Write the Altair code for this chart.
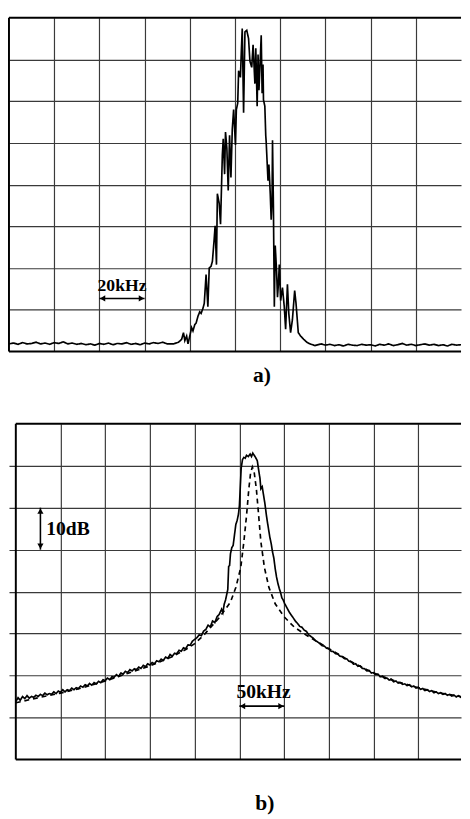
import altair as alt
import pandas as pd

FONT = "Liberation Serif"
GRID = "#3a3a3a"

# ---------------- data (x, y in grid divisions) ----------------
# Panel a) spectrum trace
a_x = [0.0, 0.1, 0.2, 0.3, 0.4, 0.5, 0.6, 0.7, 0.8, 0.9, 1.0, 1.1, 1.2, 1.3, 1.4, 1.5, 1.6,
       1.7, 1.8, 1.9, 2.0, 2.1, 2.2, 2.3, 2.4, 2.5, 2.6, 2.7, 2.8, 2.9, 3.0, 3.1, 3.2, 3.3, 3.4,
       3.50, 3.64, 3.75, 3.82, 3.86, 3.89, 3.93, 3.96, 4.00, 4.04, 4.07, 4.11, 4.14, 4.18, 4.22,
       4.25, 4.29, 4.32, 4.36, 4.40, 4.43, 4.47, 4.50, 4.54, 4.56, 4.59, 4.61, 4.65, 4.68, 4.72,
       4.74, 4.77, 4.79, 4.82, 4.85, 4.88, 4.91, 4.94, 4.97, 5.01, 5.03, 5.06, 5.08, 5.12, 5.14,
       5.16, 5.19, 5.22, 5.26, 5.30, 5.33, 5.37, 5.40, 5.44, 5.46, 5.49, 5.51, 5.53, 5.56, 5.58,
       5.60, 5.62, 5.63, 5.66, 5.68, 5.69, 5.73, 5.75, 5.78, 5.80, 5.82, 5.83, 5.85, 5.87, 5.89,
       5.92, 5.94, 5.96, 5.98, 6.01, 6.05, 6.09, 6.12, 6.16, 6.19, 6.23, 6.27, 6.32, 6.35, 6.40,
       6.45, 6.52, 6.59, 6.66, 6.77, 6.91,
       7.0, 7.1, 7.2, 7.3, 7.4, 7.5, 7.6, 7.7, 7.8, 7.9, 8.0, 8.1, 8.2, 8.3, 8.4, 8.5, 8.6, 8.7,
       8.8, 8.9, 9.0, 9.1, 9.2, 9.3, 9.4, 9.5, 9.6, 9.7, 9.8, 9.9, 10.0]
a_y = [0.18, 0.20, 0.17, 0.21, 0.18, 0.19, 0.22, 0.18, 0.20, 0.17, 0.21, 0.19, 0.23, 0.18,
       0.20, 0.17, 0.19, 0.16, 0.18, 0.15, 0.19, 0.17, 0.20, 0.16, 0.19, 0.18, 0.21, 0.17, 0.19,
       0.16, 0.20, 0.18, 0.21, 0.19, 0.22,
       0.18, 0.18, 0.22, 0.29, 0.45, 0.26, 0.37, 0.18, 0.37, 0.57, 0.49, 0.64, 0.68, 0.84, 0.95,
       0.91, 1.03, 1.15, 1.84, 1.07, 2.00, 2.04, 2.16, 2.70, 3.01, 2.08, 3.78, 3.55, 3.05, 4.71,
       5.10, 4.25, 5.26, 4.87, 3.86, 5.18, 4.17, 5.33, 5.80, 4.95, 5.80, 5.95, 6.73, 6.57, 7.19,
       7.74, 5.72, 7.66, 7.70, 7.50, 6.96, 6.81, 7.35, 6.42, 7.27, 5.88, 7.12, 6.26, 7.04, 7.58,
       6.19, 6.88, 6.03, 5.88, 5.18, 5.02, 4.09, 4.48, 3.78, 3.16, 3.63, 5.06, 3.47, 1.07, 2.54,
       1.92, 1.30, 1.61, 2.08, 1.22, 1.53, 1.07, 0.53, 1.61, 0.91, 0.45, 0.76, 1.46, 1.15, 0.45,
       0.37, 0.29, 0.22, 0.18, 0.14, 0.18,
       0.15, 0.17, 0.14, 0.16, 0.13, 0.17, 0.15, 0.14, 0.17, 0.15, 0.16, 0.13, 0.17, 0.15, 0.18,
       0.14, 0.16, 0.19, 0.15, 0.17, 0.14, 0.16, 0.18, 0.15, 0.17, 0.14, 0.16, 0.13, 0.17, 0.15,
       0.16]

# Panel b) measured (solid) trace
b_solid_x = [0.00, 0.05, 0.10, 0.15, 0.20, 0.25, 0.30, 0.35, 0.40, 0.45, 0.50, 0.55, 0.60,
             0.65, 0.70, 0.75, 0.80, 0.85, 0.90, 0.95, 1.00, 1.05, 1.10, 1.15, 1.20, 1.25,
             1.30, 1.35, 1.40, 1.45, 1.50, 1.55, 1.60, 1.65, 1.70, 1.75, 1.80, 1.85, 1.90,
             1.95, 2.00, 2.05, 2.10, 2.15, 2.20, 2.25, 2.30, 2.35, 2.40, 2.45, 2.50, 2.55,
             2.60, 2.65, 2.70, 2.75, 2.80, 2.85, 2.90, 2.95, 3.00, 3.05, 3.10, 3.15, 3.20,
             3.25, 3.30, 3.35, 3.40, 3.45, 3.50, 3.55, 3.60, 3.65, 3.70, 3.75, 3.80, 3.85,
             3.90, 3.95, 4.00, 4.05, 4.10, 4.15, 4.20, 4.25, 4.30, 4.35, 4.40, 4.45, 4.50,
             4.55, 4.60, 4.63, 4.66, 4.69, 4.72, 4.74, 4.76, 4.78, 4.80, 4.83, 4.86, 4.89,
             4.92, 4.95, 4.98, 5.00, 5.02, 5.04, 5.07, 5.10, 5.13, 5.16, 5.20, 5.24, 5.27,
             5.30, 5.33, 5.36, 5.40, 5.43, 5.46, 5.48, 5.51, 5.54, 5.57, 5.60, 5.62, 5.65,
             5.68, 5.71, 5.74, 5.77, 5.80, 5.83, 5.86, 5.89, 5.92, 5.95, 5.98, 6.01, 6.04,
             6.08, 6.12, 6.16, 6.20, 6.25, 6.30, 6.35, 6.40, 6.45, 6.50, 6.55, 6.60, 6.65,
             6.70, 6.75, 6.80, 6.85, 6.90, 6.95, 7.00, 7.05, 7.10, 7.15, 7.20, 7.25, 7.30,
             7.35, 7.40, 7.45, 7.50, 7.55, 7.60, 7.65, 7.70, 7.75, 7.80, 7.85, 7.90, 7.95,
             8.00, 8.05, 8.10, 8.15, 8.20, 8.25, 8.30, 8.35, 8.40, 8.45, 8.50, 8.55, 8.60,
             8.65, 8.70, 8.75, 8.80, 8.85, 8.90, 8.95, 9.00, 9.05, 9.10, 9.15, 9.20, 9.25,
             9.30, 9.35, 9.40, 9.45, 9.50, 9.55, 9.60, 9.65, 9.70, 9.75, 9.80, 9.85, 9.90,
             9.95, 10.00]
b_solid_y = [1.38, 1.47, 1.41, 1.50, 1.45, 1.52, 1.46, 1.50, 1.48, 1.53, 1.50, 1.55, 1.52,
             1.58, 1.54, 1.57, 1.55, 1.61, 1.57, 1.63, 1.60, 1.66, 1.61, 1.66, 1.64, 1.70,
             1.66, 1.71, 1.69, 1.75, 1.72, 1.78, 1.75, 1.81, 1.77, 1.83, 1.80, 1.86, 1.83,
             1.90, 1.88, 1.94, 1.90, 1.97, 1.96, 2.02, 1.98, 2.06, 2.03, 2.10, 2.07, 2.14,
             2.11, 2.16, 2.14, 2.20, 2.17, 2.24, 2.21, 2.28, 2.25, 2.31, 2.28, 2.35, 2.33,
             2.39, 2.36, 2.44, 2.41, 2.50, 2.46, 2.53, 2.52, 2.60, 2.58, 2.66, 2.64, 2.73,
             2.72, 2.82, 2.86, 2.90, 2.97, 2.95, 3.06, 3.10, 3.20, 3.16, 3.30, 3.26, 3.40,
             3.46, 3.58, 3.50, 3.70, 3.80, 3.95, 4.05, 4.60, 4.62, 4.90, 5.05, 5.10, 5.35,
             5.60, 5.70, 5.85, 6.05, 6.50, 6.95, 7.15, 7.20, 7.18, 7.25, 7.22, 7.28, 7.22,
             7.30, 7.25, 7.20, 7.12, 6.90, 6.70, 6.45, 6.50, 6.30, 6.10, 5.85, 5.70, 5.50,
             5.30, 5.15, 4.95, 4.80, 4.55, 4.35, 4.20, 4.08, 3.98, 3.85, 3.80, 3.72, 3.66,
             3.58, 3.50, 3.44, 3.38, 3.30, 3.24, 3.17, 3.15, 3.08, 3.05, 2.97, 2.93, 2.89,
             2.83, 2.80, 2.76, 2.71, 2.70, 2.65, 2.64, 2.58, 2.57, 2.52, 2.51, 2.46, 2.45,
             2.40, 2.40, 2.34, 2.33, 2.27, 2.28, 2.22, 2.23, 2.17, 2.16, 2.11, 2.12, 2.06,
             2.07, 2.02, 2.03, 1.97, 1.98, 1.93, 1.94, 1.89, 1.91, 1.85, 1.87, 1.82, 1.83,
             1.79, 1.80, 1.76, 1.78, 1.73, 1.75, 1.70, 1.72, 1.67, 1.69, 1.64, 1.66, 1.62,
             1.64, 1.59, 1.61, 1.57, 1.59, 1.55, 1.57, 1.53, 1.55, 1.51, 1.53, 1.49, 1.52,
             1.48, 1.50]

# Panel b) reference (dashed) trace
b_dash_x = [0.00, 0.50, 1.00, 1.50, 2.00, 2.50, 3.00, 3.50, 3.80, 4.00, 4.20, 4.40, 4.55,
            4.70, 4.80, 4.92, 5.03, 5.10, 5.16, 5.21, 5.25, 5.29, 5.33, 5.38, 5.43, 5.48,
            5.56, 5.66, 5.80, 6.00, 6.23, 6.50, 6.75, 7.00, 7.50, 8.00, 8.50, 9.00, 9.50, 10.00]
b_dash_y = [1.35, 1.47, 1.58, 1.71, 1.87, 2.05, 2.23, 2.45, 2.62, 2.76, 2.96, 3.20, 3.38,
            3.60, 3.75, 4.10, 4.57, 5.19, 5.82, 6.44, 6.83, 6.97, 6.85, 6.44, 5.82, 5.19,
            4.57, 4.10, 3.71, 3.40, 3.15, 2.96, 2.80, 2.64, 2.33, 2.06, 1.86, 1.71, 1.58, 1.49]

grid_x = [1, 2, 3, 4, 5, 6, 7, 8, 9]
grid_y = [1, 2, 3, 4, 5, 6, 7]

# annotations
a_note = {"t": ["20kHz"], "x": [2.5], "y": [1.45]}
a_arrow = {"x": [2.0], "x2": [3.0], "y": [1.27]}
a_heads = {"x": [2.07, 2.93], "y": [1.27, 1.27], "s": ["triangle-left", "triangle-right"]}

b_note = {"t": ["10dB", "50kHz"], "x": [0.68, 5.54], "y": [5.35, 1.47],
          "al": ["left", "center"]}
b_arrow = {"x": [0.55, 5.0], "x2": [0.55, 6.0], "y": [5.0, 1.27], "y2": [6.0, 1.27]}
b_heads = {"x": [0.55, 0.55, 5.07, 5.93], "y": [5.92, 5.08, 1.27, 1.27],
           "s": ["triangle-up", "triangle-down", "triangle-left", "triangle-right"]}

W = 462
HA = 341
HB = 343


def make_panel(xdom, height, title, title_x, title_pad, traces, note, arrow, heads):
    xs = alt.Scale(domain=xdom, nice=False, zero=False)
    ys = alt.Scale(domain=[0, 8], nice=False, zero=False)
    xaxis = alt.Axis(values=grid_x, grid=True, gridColor=GRID, gridWidth=1.2,
                     labels=False, ticks=False, domain=False, title=title,
                     titleFont=FONT, titleFontSize=22, titleFontWeight="bold",
                     titleColor="black", titlePadding=title_pad, titleX=title_x)
    yaxis = alt.Axis(values=grid_y, grid=True, gridColor=GRID, gridWidth=1.2,
                     labels=False, ticks=False, domain=False, title=None)
    X = alt.X("x:Q", scale=xs, axis=xaxis)
    Y = alt.Y("y:Q", scale=ys, axis=yaxis)

    layers = []
    # frame (left, bottom, top)
    frame_v = pd.DataFrame({"x": [0], "y": [0], "y2": [8]})
    frame_h = pd.DataFrame({"x": [0, 0], "x2": [xdom[1], xdom[1]], "y": [0, 8]})
    layers.append(alt.Chart(frame_v).mark_rule(color="black", strokeWidth=2)
                  .encode(x=X, y=Y, y2="y2:Q"))
    layers.append(alt.Chart(frame_h).mark_rule(color="black", strokeWidth=2)
                  .encode(x=X, x2="x2:Q", y=Y))
    for df, dash in traces:
        m = alt.Chart(df).mark_line(color="black", strokeWidth=1.7, clip=True,
                                    strokeDash=dash if dash else [1, 0])
        layers.append(m.encode(x=X, y=Y, order="i:Q"))
    ar = pd.DataFrame(arrow)
    enc = dict(x=X, y=Y, x2="x2:Q")
    if "y2" in arrow:
        enc["y2"] = "y2:Q"
    layers.append(alt.Chart(ar).mark_rule(color="black", strokeWidth=1.6).encode(**enc))
    layers.append(alt.Chart(pd.DataFrame(heads)).mark_point(
        filled=True, color="black", size=40, opacity=1, strokeWidth=0)
        .encode(x=X, y=Y, shape=alt.Shape("s:N", scale=None)))
    nd = pd.DataFrame(note)
    if "al" in note:
        for al in ["left", "center"]:
            sub = nd[nd["al"] == al]
            layers.append(alt.Chart(sub).mark_text(
                font=FONT, fontSize=20, fontWeight="bold", color="black",
                align=al, baseline="alphabetic").encode(x=X, y=Y, text="t:N"))
    else:
        layers.append(alt.Chart(nd).mark_text(
            font=FONT, fontSize=18, fontWeight="bold", color="black",
            align="center", baseline="alphabetic").encode(x=X, y=Y, text="t:N"))
    return alt.layer(*layers).properties(width=W, height=height)


dfa = pd.DataFrame({"x": a_x, "y": a_y, "i": list(range(len(a_x)))})
dfs = pd.DataFrame({"x": b_solid_x, "y": b_solid_y, "i": list(range(len(b_solid_x)))})
dfd = pd.DataFrame({"x": b_dash_x, "y": b_dash_y, "i": list(range(len(b_dash_x)))})

pa = make_panel([0, 10], HA, "a)", 258, 14, [(dfa, None)], a_note, a_arrow, a_heads)
pb = make_panel([-0.153, 9.956], HB, "b)", 261, 34,
                [(dfd, [5, 4]), (dfs, None)], b_note, b_arrow, b_heads)

chart = alt.vconcat(pa, pb, spacing=38).properties(padding=0, background="white") \
    .configure_view(stroke=None)

chart.save("out.html", embed_options={"renderer": "svg", "actions": False})
